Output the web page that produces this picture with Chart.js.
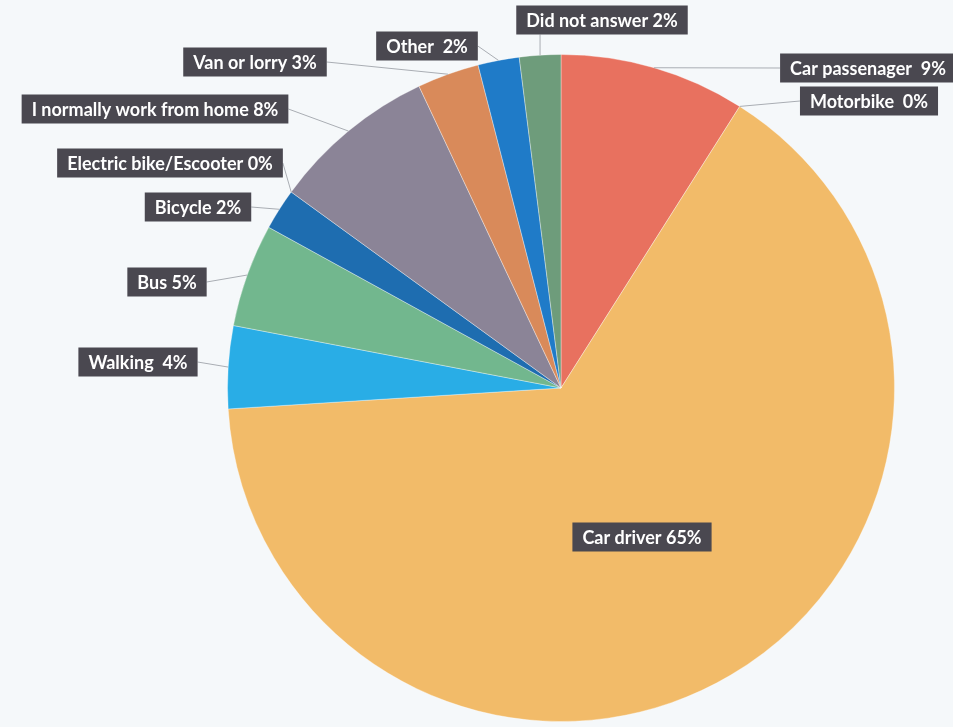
<!DOCTYPE html>
<html lang="en">
<head>
  <meta charset="UTF-8">
  <title>Travel to work</title>
  <script src="https://cdn.jsdelivr.net/npm/chart.js"></script>
  <style>
    * {
      box-sizing: border-box;
      margin: 0;
      padding: 0;
    }

    body {
      background-color: #f5f8fa;
      width: 953px;
      height: 727px;
      overflow: hidden;
    }

    .chart-wrap {
      position: relative;
      width: 953px;
      height: 727px;
    }
  </style>
</head>
<body>
  <div class="chart-wrap">
    <canvas id="modeChart"></canvas>
  </div>

  <script>
    // how people get to work, share of answers in percent
    const modes = [
      'Car passenager', 'Motorbike', 'Car driver', 'Walking', 'Bus', 'Bicycle',
      'Electric bike/Escooter', 'I normally work from home', 'Van or lorry', 'Other', 'Did not answer'
    ];
    const shares = [9, 0, 65, 4, 5, 2, 0, 8, 3, 2, 2];
    const gaps = ['  ', '  ', ' ', '  ', ' ', ' ', ' ', ' ', ' ', '  ', ' '];
    const sliceColors = [
      '#e8715f', '#e8715f', '#f2bb69', '#29ade6', '#72b78e', '#1e6db0',
      '#1e6db0', '#8b8497', '#d98a5a', '#1f7bc8', '#6e9c7b'
    ];

    // callout box centres; leader false means the box sits on its slice
    const calloutSpots = [
      { x: 868, y: 68, leader: true },
      { x: 869, y: 101, leader: true },
      { x: 642, y: 537, leader: false },
      { x: 138, y: 362, leader: true },
      { x: 167, y: 282, leader: true },
      { x: 198, y: 207, leader: true },
      { x: 170, y: 163, leader: true },
      { x: 155, y: 109, leader: true },
      { x: 255, y: 62, leader: true },
      { x: 427, y: 46, leader: true },
      { x: 602, y: 20, leader: true }
    ];

    const calloutPlugin = {
      id: 'callouts',
      afterDatasetsDraw(chart) {
        const ctx = chart.ctx;
        const arcs = chart.getDatasetMeta(0).data;
        ctx.save();
        ctx.font = 'bold 18px Lato, "Open Sans", sans-serif';
        ctx.textBaseline = 'middle';
        ctx.textAlign = 'center';

        arcs.forEach((arc, i) => {
          const spot = calloutSpots[i];
          const text = modes[i] + gaps[i] + shares[i] + '%';
          const w = ctx.measureText(text).width + 20;
          const h = 29;
          const left = spot.x - w / 2;
          const top = spot.y - h / 2;

          if (spot.leader) {
            const mid = (arc.startAngle + arc.endAngle) / 2;
            const ax = arc.x + Math.cos(mid) * arc.outerRadius;
            const ay = arc.y + Math.sin(mid) * arc.outerRadius;
            let bx, by;
            if (ax > left && ax < left + w) {
              bx = ax;
              by = top + h;
            } else {
              bx = ax < left ? left : left + w;
              by = spot.y;
            }
            ctx.strokeStyle = '#a9adb3';
            ctx.lineWidth = 1;
            ctx.beginPath();
            ctx.moveTo(ax, ay);
            ctx.lineTo(bx, by);
            ctx.stroke();
          }

          ctx.fillStyle = '#4a4850';
          ctx.fillRect(left, top, w, h);
          ctx.fillStyle = '#ffffff';
          ctx.fillText(text, spot.x, spot.y + 1);
        });
        ctx.restore();
      }
    };

    new Chart(document.getElementById('modeChart'), {
      type: 'pie',
      data: {
        labels: modes,
        datasets: [{
          data: shares,
          backgroundColor: sliceColors,
          borderColor: 'rgba(255, 255, 255, 0.35)',
          borderWidth: 1
        }]
      },
      options: {
        responsive: true,
        maintainAspectRatio: false,
        animation: false,
        layout: {
          padding: { top: 54, bottom: 5, left: 169, right: 0 }
        },
        plugins: {
          legend: { display: false },
          tooltip: { enabled: false }
        }
      },
      plugins: [calloutPlugin]
    });
  </script>
</body>
</html>
